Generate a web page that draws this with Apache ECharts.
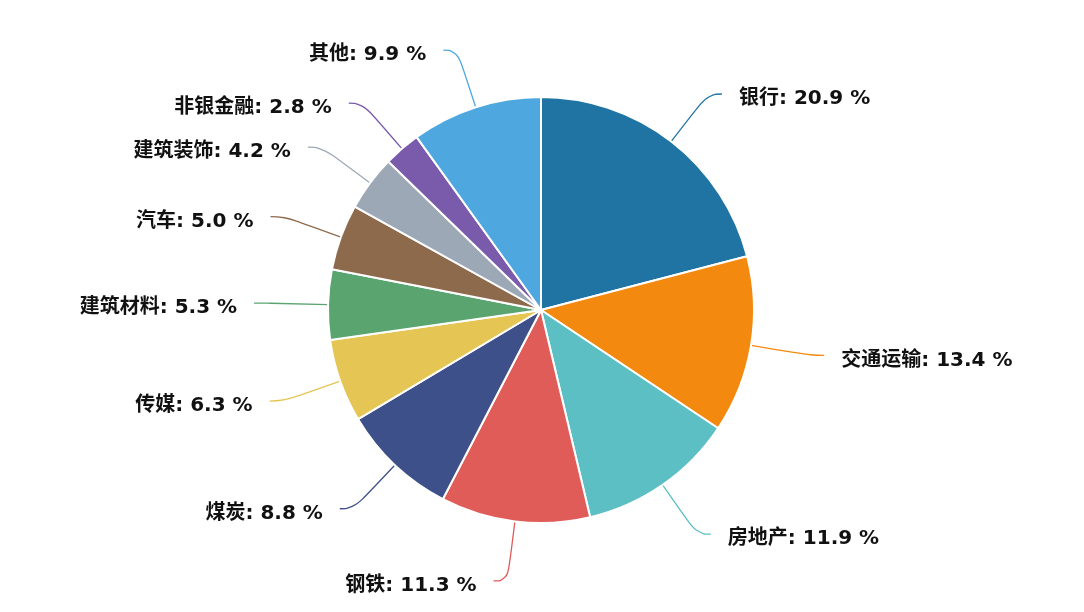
<!DOCTYPE html>
<html><head><meta charset="utf-8">
<script src="https://cdn.jsdelivr.net/npm/echarts@6/dist/echarts.min.js"></script>
<style>html,body{margin:0;padding:0;background:#fff}#c{width:1084px;height:612px}</style>
</head><body><div id="c"></div>
<script>
const categories = ['银行','交通运输','房地产','钢铁','煤炭','传媒','建筑材料','汽车','建筑装饰','非银金融','其他'];
const values = [20.9,13.4,11.9,11.3,8.8,6.3,5.3,5.0,4.2,2.8,9.9];
const colors = ['#1f74a3','#f4890f','#5bbfc3','#e05c59','#3e5089','#e5c553','#5aa46f','#8e6a4c','#9da8b6','#7a5aab','#4ea8df'];
const chart = echarts.init(document.getElementById('c'));
chart.setOption({
  animation:false,
  series:[{
    type:'pie',
    center:[541,310],
    radius:[0,213],
    startAngle:90,
    clockwise:true,
    itemStyle:{borderColor:'#fff',borderWidth:2},
    label:{
      formatter:p=>p.name+': '+p.value.toFixed(1)+' %',
      fontFamily:'DejaVu Sans, Noto Sans CJK SC',fontWeight:'bold',fontSize:20,color:'#111',
      distanceToLabelLine:17
    },
    labelLayout:{dy:5},
    labelLine:{smooth:0.5,length:60,length2:14,lineStyle:{width:1.3}},
    data:categories.map((c,i)=>({name:c,value:values[i],itemStyle:{color:colors[i]}}))
  }]
});
</script></body></html>
